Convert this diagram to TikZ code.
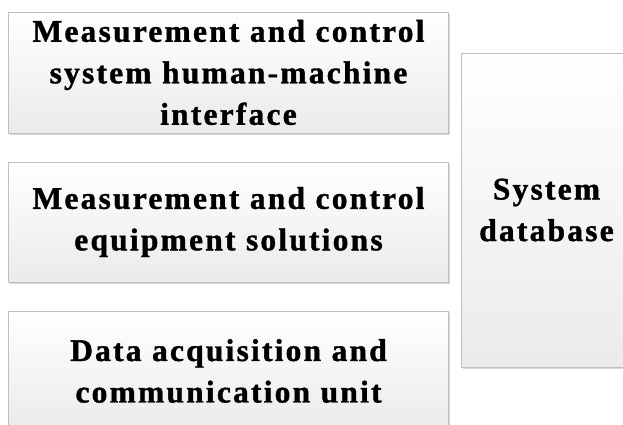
\documentclass[tikz,border=0pt]{standalone}
\usepackage{fontspec}
\setmainfont{Liberation Serif}
\newfontfamily\boxfont{Liberation Serif}[LetterSpace=7,FakeBold=1.2,UprightFont=*-Bold]
\usetikzlibrary{shadows}
\tikzset{
  box/.style={draw=gray!50, line width=0.9pt, top color=white, bottom color=gray!16,
    drop shadow={shadow xshift=1.6pt, shadow yshift=-1.6pt, fill=gray!60, opacity=0.5},
    align=center, inner sep=0pt,
    font=\fontsize{31.5}{41.5}\boxfont},
}
\begin{document}
\begin{tikzpicture}[x=1pt,y=-1pt]
\useasboundingbox (0,0) rectangle (623,425);
\clip (0,0) rectangle (623,425);
\node[box, minimum width=440pt, minimum height=121pt, text width=430pt] (hmi) at (228.5,72.5)
  {Measurement and control\\system human-machine\\interface};
\node[box, minimum width=440pt, minimum height=120pt, text width=430pt] (equip) at (228.5,222)
  {Measurement and control\\equipment solutions};
\node[box, minimum width=440pt, minimum height=120pt, text width=430pt] (daq) at (228.5,371)
  {Data acquisition and\\communication unit};
\node[box, minimum width=171pt, minimum height=314pt, text width=165pt] (db) at (546.5,210)
  {System\\database};
\end{tikzpicture}
\end{document}
